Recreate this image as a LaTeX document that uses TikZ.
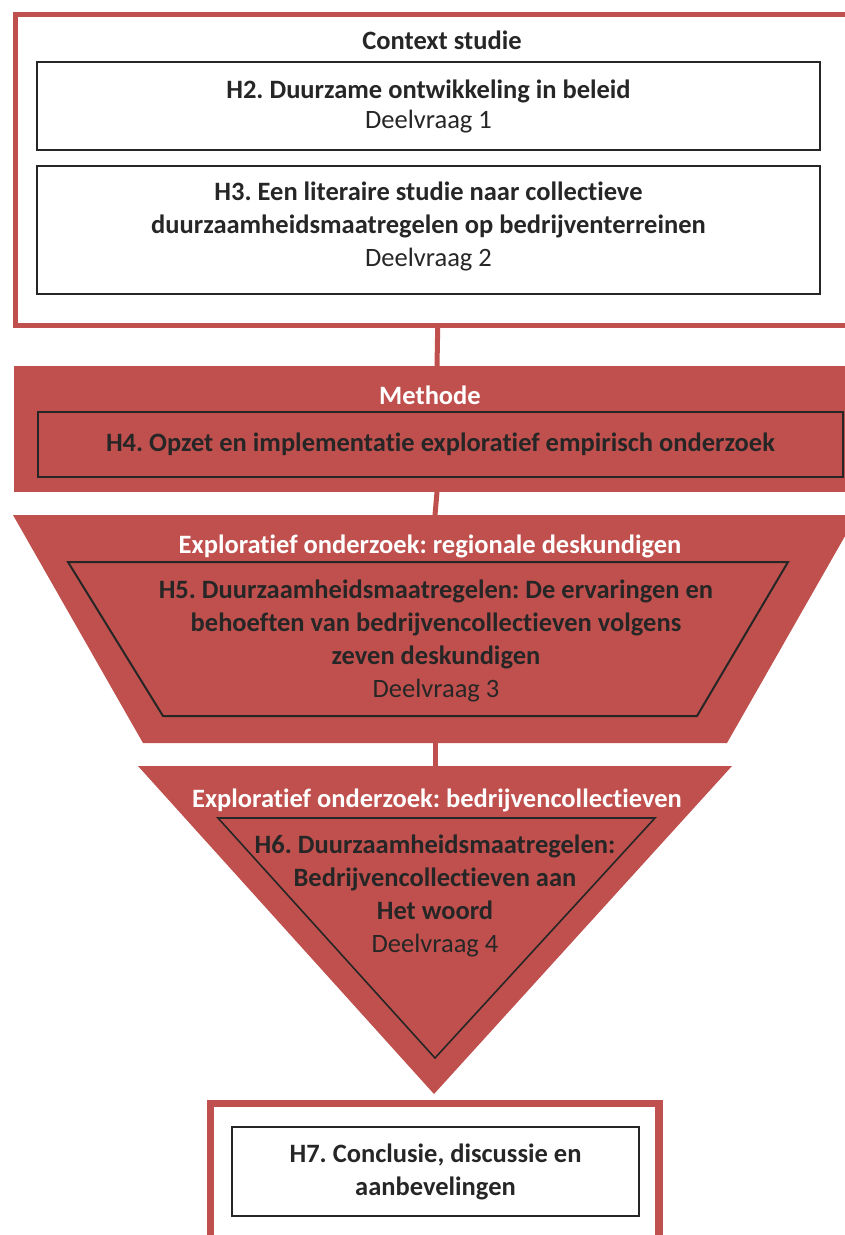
\documentclass[tikz,border=0pt]{standalone}
\usepackage{fontspec}
\setmainfont{Carlito}[Ligatures=NoCommon]
\definecolor{accent}{HTML}{C0504D}
\definecolor{ink}{HTML}{262626}
\newcommand{\bodysize}{\fontsize{26.5}{33}\selectfont}
\frenchspacing
\begin{document}
\begin{tikzpicture}[x=1pt,y=-1pt,
  every node/.style={inner sep=0pt, outer sep=0pt},
  frame/.style={draw=accent, line width=5.5pt},
  box/.style={draw=ink, line width=2pt, align=center, text=ink, font=\bodysize},
  band/.style={fill=accent},
  shapeline/.style={draw=ink, line width=2pt, line join=miter},
  head/.style={text=white, font=\bodysize\bfseries},
  title/.style={text=ink, font=\bodysize\bfseries},
  multi/.style={text=ink, align=center, font=\bodysize},
  link/.style={draw=accent, line width=5pt}]
\useasboundingbox (0,0) rectangle (845,1235);
\clip (0,0) rectangle (845,1235);
\fill[white] (0,0) rectangle (845,1235);

% Context study block
\node[frame, minimum width=844.5pt, minimum height=311pt] (ctx) at (437.75,170) {};
\node[title] (ctxlabel) at (442,40) {Context studie};
\node[box, minimum width=783pt, minimum height=88pt] (h2) at (428.5,106)
  {\bfseries H2. Duurzame ontwikkeling in beleid\\[-3pt] Deelvraag 1};
\node[box, minimum width=783pt, minimum height=128pt] (h3) at (428.5,230) {};
\node[multi] (h3text) at (428.5,226)
  {\bfseries H3. Een literaire studie naar collectieve\\
   \bfseries duurzaamheidsmaatregelen op bedrijventerreinen\\ Deelvraag 2};

% Method block
\node[band, minimum width=846pt, minimum height=126pt] (meth) at (437,429) {};
\node[head] (methlabel) at (430,395) {Methode};
\node[box, line width=2.5pt, minimum width=805pt, minimum height=65pt] (h4) at (440.5,444.5)
  {\bfseries H4. Opzet en implementatie exploratief empirisch onderzoek};

% Expert interviews: trapezoid
\coordinate (trapTop) at (435,515);
\coordinate (trapBot) at (435,743);
\fill[accent] (13,515) -- (857,515) -- (727,743) -- (143,743) -- cycle;
\draw[shapeline] (68,562) -- (788,562) -- (697,716) -- (163,716) -- cycle;
\node[head] (explabel) at (430,546) {Exploratief onderzoek: regionale deskundigen};
\node[multi] (h5text) at (436,641)
  {\bfseries H5. Duurzaamheidsmaatregelen: De ervaringen en\\
   \bfseries behoeften van bedrijvencollectieven volgens\\
   \bfseries zeven deskundigen\\ Deelvraag 3};

% Business collectives: triangle
\coordinate (triTop) at (435,766);
\coordinate (triApex) at (434,1094);
\fill[accent] (138,766) -- (732,766) -- (triApex) -- cycle;
\draw[shapeline, line width=1.6pt] (218,818) -- (655,818) -- (435,1058) -- cycle;
\node[head] (collabel) at (437,800) {Exploratief onderzoek: bedrijvencollectieven};
\node[multi] (h6text) at (435,896)
  {\bfseries H6. Duurzaamheidsmaatregelen:\\
   \bfseries Bedrijvencollectieven aan\\
   \bfseries Het woord\\ Deelvraag 4};

% Conclusion block
\node[frame, line width=7.5pt, minimum width=448.5pt, minimum height=166.5pt] (concl) at (434.75,1186.75) {};
\node[box, minimum width=407pt, minimum height=89pt] (h7) at (435.5,1171.5)
  {\bfseries H7. Conclusie, discussie en\\ \bfseries aanbevelingen};

% Connectors between the blocks
\draw[link] (ctx.south) -- (meth.north);
\draw[link] (meth.south) -- (trapTop);
\draw[link] (trapBot) -- (triTop);
\end{tikzpicture}
\end{document}
